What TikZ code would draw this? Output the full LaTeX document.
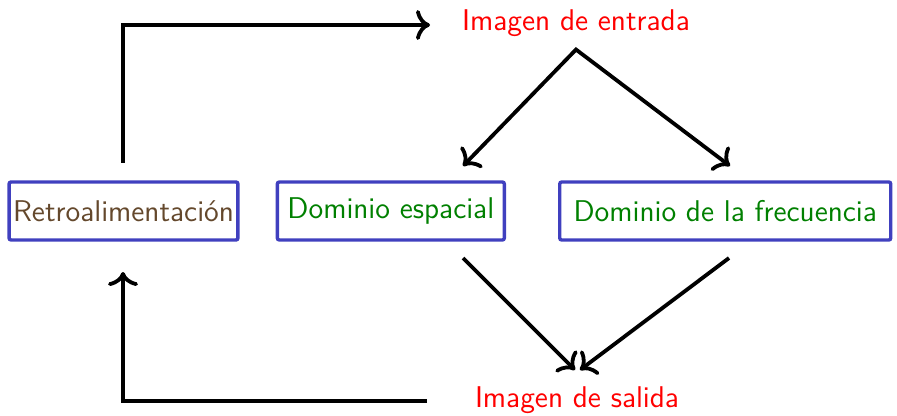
\documentclass[tikz,border=0pt]{standalone}
\usepackage{xcolor}
\usepackage{tikz}
\usetikzlibrary{arrows.meta,positioning}
\definecolor{boxcolor}{RGB}{64,64,191}
\definecolor{retrocolor}{RGB}{100,72,44}
\definecolor{domcolor}{RGB}{0,128,0}

\begin{document}
\begin{tikzpicture}[
    x=0.5pt, y=-0.5pt,
    font=\sffamily\fontsize{15}{18}\selectfont,
    bigto/.tip={To[length=7pt,width=15pt]},
    blockbox/.style={rectangle, draw=boxcolor, line width=1.7pt, rounded corners=1pt, minimum height=29pt, inner xsep=2pt, text=domcolor},
    imagetext/.style={text=red},
    arr/.style={-bigto, line width=1.9pt}
]
    \useasboundingbox (0,0) rectangle (897,416);
    % blocks
    \node[blockbox, text=retrocolor, minimum width=113.5pt] (retro) at (123.5,211) {Retroalimentación};
    \node[blockbox, minimum width=113.5pt, right=18pt of retro] (spatial) {Dominio espacial};
    \node[blockbox, minimum width=165.5pt, right=26pt of spatial] (freq) {Dominio de la frecuencia};
    \node[imagetext] (input) at (576,23) {Imagen de entrada};
    \node[imagetext] (output) at (577,400) {Imagen de salida};
    % free ends
    \coordinate (fbtop) at (123,163);
    \coordinate (fbin) at (430,25);
    \coordinate (fbout) at (427,401);
    \coordinate (fbbot) at (123,272);
    \coordinate (inleft) at (463,166);
    \coordinate (inright) at (730,166);
    \coordinate (spout) at (463,258);
    \coordinate (frout) at (729,258);
    \coordinate (outleft) at (575,370);
    \coordinate (outright) at (580,370);
    % connectors
    \draw[arr] (fbtop) |- (fbin);
    \draw[arr] (fbout) -| (fbbot);
    \draw[arr, bigto-bigto] (inleft) -- ([yshift=-3pt]input.south) -- (inright);
    \draw[arr] (spout) -- (outleft);
    \draw[arr] (frout) -- (outright);
\end{tikzpicture}
\end{document}
